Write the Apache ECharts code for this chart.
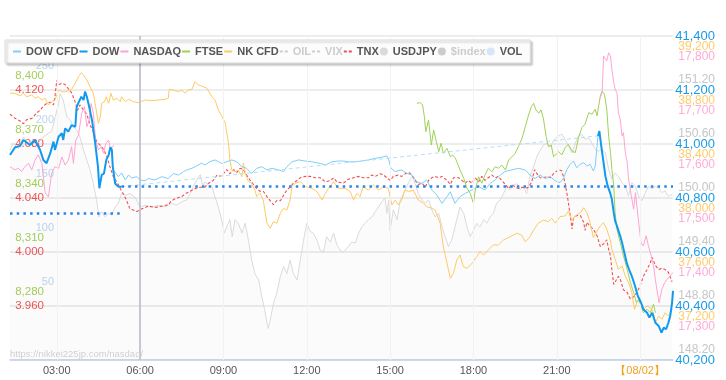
<!DOCTYPE html>
<html><head><meta charset="utf-8">
<script src="https://cdn.jsdelivr.net/npm/echarts@6/dist/echarts.min.js"></script>
<style>html,body{margin:0;padding:0;background:#fff}#c{width:726px;height:380px}</style>
</head><body><div id="c"></div>
<script>
// ---- x axis (minutes since 00:00 of 08/01) ----
const xTickValues = [180, 360, 540, 720, 900, 1080, 1260, 1440];
const xTickLabels = ['03:00', '06:00', '09:00', '12:00', '15:00', '18:00', '21:00', '【08/02】'];
const X_MIN = 79, X_MAX = 1511;
const sessionLine = 360;

// ---- series values [minute, value] ----
const dowLeft = [[79,40959],[90,40988],[101,40993],[108,41015],[122,40996],[133,41015],[144,40978],[151,40941],[158,40929],[166,40966],[173,41009],[176,40978],[184,41027],[191,41040],[194,41015],[198,41058],[205,41046],[212,41070],[220,41064],[223,41138],[228,41157],[233,41175],[238,41163],[241,41194],[245,41175],[250,41138],[256,41089],[263,41003],[269,40916],[272,40836],[277,40885],[282,40891],[287,40941],[292,40959],[296,40988],[299,40978],[301,40916],[306,40854],[313,40842],[320,40842]];
const dowRight = [[1349,41030],[1352,41048],[1356,40993],[1361,40931],[1365,40881],[1370,40844],[1375,40820],[1379,40795],[1383,40746],[1386,40715],[1390,40696],[1397,40659],[1401,40634],[1406,40597],[1411,40560],[1416,40536],[1422,40511],[1429,40474],[1435,40437],[1442,40412],[1447,40388],[1455,40375],[1460,40357],[1466,40375],[1473,40338],[1480,40326],[1486,40301],[1491,40320],[1496,40314],[1501,40338],[1505,40363],[1509,40412],[1511,40456]];
const dowGap = [[320,40842],[1349,41030]];
const prevCloseValues = [40743, 40842];
const prevCloseRanges = [[79,320],[320,1511]];
const dowCfd = [[302,40904],[313,40879],[320,40893],[328,40867],[335,40885],[342,40874],[353,40879],[360,40867],[371,40864],[378,40872],[392,40867],[407,40879],[421,40872],[432,40891],[443,40885],[454,40898],[461,40904],[472,40910],[482,40919],[493,40929],[500,40922],[511,40935],[522,40941],[536,40928],[547,40934],[558,40941],[569,40934],[580,40916],[590,40910],[601,40891],[612,40910],[623,40916],[634,40904],[645,40910],[659,40904],[670,40898],[677,40916],[688,40934],[702,40941],[716,40937],[731,40934],[749,40928],[760,40922],[774,40934],[788,40937],[799,40937],[810,40934],[824,40934],[839,40937],[853,40941],[868,40947],[882,40951],[893,40956],[896,40947],[902,40910],[911,40898],[925,40904],[936,40891],[947,40885],[958,40860],[969,40854],[979,40867],[990,40830],[1001,40811],[1012,40780],[1023,40805],[1030,40823],[1040,40780],[1051,40805],[1062,40817],[1077,40830],[1091,40842],[1105,40830],[1116,40854],[1127,40867],[1138,40885],[1148,40898],[1163,40904],[1177,40910],[1192,40904],[1202,40885],[1213,40872],[1224,40885],[1235,40872],[1246,40879],[1257,40863],[1267,40857],[1275,40875],[1282,40906],[1289,40925],[1296,40937],[1303,40912],[1311,40925],[1318,40931],[1325,40918],[1332,40925],[1339,40900],[1343,40918],[1349,41030]];
const nasdaqLeft = [[79,17558],[90,17552],[97,17555],[104,17549],[111,17558],[119,17564],[126,17552],[133,17570],[140,17580],[148,17564],[155,17509],[162,17502],[169,17546],[176,17558],[184,17555],[191,17576],[198,17561],[205,17570],[212,17595],[216,17564],[221,17607],[227,17617],[234,17657],[240,17669],[245,17632],[250,17644],[254,17675],[259,17657],[264,17607],[270,17589],[276,17595],[281,17583],[286,17601],[292,17607],[296,17589],[300,17594],[303,17598]];
const nasdaqRight = [[1352,17681],[1358,17695],[1361,17763],[1365,17766],[1368,17754],[1372,17769],[1376,17763],[1379,17738],[1383,17714],[1386,17701],[1390,17695],[1393,17658],[1397,17646],[1401,17615],[1404,17621],[1408,17584],[1412,17566],[1415,17535],[1421,17504],[1426,17479],[1430,17510],[1433,17485],[1437,17454],[1442,17417],[1447,17411],[1453,17430],[1458,17411],[1464,17393],[1469,17374],[1473,17349],[1476,17331],[1481,17306],[1487,17331],[1493,17343],[1498,17349],[1505,17356],[1511,17362]];
const ftse = [[958,8392.6],[965,8393.0],[970,8391.7],[974,8385.2],[977,8376.8],[983,8383.3],[989,8369.4],[994,8377.8],[999,8372.2],[1005,8365.7],[1010,8370.4],[1015,8364.8],[1023,8367.6],[1030,8362.9],[1035,8363.9],[1041,8362.1],[1044,8361.1],[1051,8355.6],[1059,8350.9],[1066,8345.4],[1073,8342.6],[1080,8337.0],[1084,8344.4],[1091,8351.8],[1098,8348.2],[1105,8352.8],[1112,8356.5],[1120,8354.6],[1127,8357.4],[1134,8356.5],[1141,8358.3],[1149,8355.6],[1156,8361.1],[1163,8362.9],[1170,8364.8],[1177,8368.5],[1185,8373.2],[1192,8379.6],[1199,8386.1],[1205,8390.7],[1210,8392.6],[1215,8388.9],[1221,8387.1],[1226,8388.9],[1231,8384.3],[1237,8374.1],[1242,8368.5],[1248,8369.4],[1253,8362.9],[1257,8362.5],[1264,8365.7],[1271,8364.0],[1278,8367.9],[1285,8369.8],[1293,8366.1],[1300,8365.2],[1307,8373.5],[1314,8379.1],[1321,8381.0],[1329,8387.4],[1336,8386.5],[1343,8389.3],[1347,8385.6],[1354,8396.7],[1358,8399.4],[1363,8397.6],[1368,8389.3],[1372,8374.4],[1376,8365.2],[1379,8355.9],[1383,8346.7],[1386,8331.8],[1390,8322.6],[1397,8315.2],[1404,8307.8],[1412,8300.4],[1419,8293.0],[1426,8287.4],[1432,8281.9],[1437,8283.7],[1442,8280.0],[1447,8276.3],[1455,8278.2],[1462,8276.3],[1469,8280.9],[1473,8276.3]];
const nkCfd = [[79,38776],[90,38776],[101,38756],[108,38776],[115,38750],[126,38763],[133,38739],[140,38750],[148,38726],[155,38739],[162,38689],[169,38713],[176,38726],[184,38800],[191,38787],[198,38787],[205,38795],[212,38805],[220,38850],[227,38899],[233,38928],[238,38911],[245,38874],[252,38824],[259,38776],[264,38676],[270,38553],[274,38602],[277,38701],[283,38713],[287,38750],[292,38701],[297,38776],[302,38726],[310,38739],[317,38713],[320,38750],[328,38713],[335,38731],[346,38713],[356,38706],[371,38726],[385,38721],[400,38726],[414,38731],[421,38739],[423,38805],[432,38800],[443,38787],[450,38800],[457,38776],[464,38800],[472,38805],[479,38862],[486,38837],[493,38830],[504,38813],[515,38750],[522,38726],[529,38652],[537,38602],[544,38553],[551,38405],[554,38282],[558,38207],[565,38195],[572,38207],[580,38158],[583,38257],[587,38183],[594,38121],[601,38109],[608,38059],[612,38010],[619,38035],[626,37985],[634,37813],[641,37776],[648,37825],[655,37813],[663,37887],[670,37924],[677,37911],[684,37985],[688,38084],[695,38109],[706,38121],[717,38084],[731,38072],[742,38047],[753,37985],[760,38035],[767,38072],[778,38121],[788,38072],[803,38072],[814,38047],[821,37985],[828,38035],[835,38010],[842,38084],[853,38059],[864,38096],[875,38059],[886,38084],[896,38072],[904,37948],[911,37985],[918,37948],[925,37985],[932,38059],[940,38047],[950,38059],[961,37985],[972,37961],[979,37936],[990,37924],[997,37911],[1008,37813],[1015,37639],[1023,37516],[1030,37405],[1037,37442],[1044,37541],[1051,37578],[1058,37491],[1066,37479],[1077,37516],[1087,37565],[1094,37602],[1102,37578],[1112,37615],[1123,37652],[1134,37652],[1145,37689],[1159,37713],[1174,37739],[1184,37726],[1192,37676],[1202,37713],[1210,37763],[1220,37813],[1231,37837],[1242,37825],[1249,37850],[1257,37813],[1267,37862],[1278,37867],[1285,37904],[1293,37830],[1300,37867],[1311,37891],[1318,37928],[1325,37891],[1332,37817],[1339,37706],[1347,37756],[1354,37793],[1361,37817],[1368,37768],[1375,37694],[1379,37620],[1386,37546],[1393,37472],[1401,37496],[1408,37422],[1415,37373],[1422,37299],[1428,37176],[1433,37225],[1440,37250],[1447,37176],[1455,37200],[1462,37188],[1469,37150],[1473,37076],[1480,37126],[1487,37102],[1494,37150],[1501,37126],[1509,37176]];
const tnx = [[79,4.102],[90,4.099],[101,4.097],[108,4.095],[115,4.098],[126,4.099],[137,4.103],[144,4.105],[151,4.108],[158,4.110],[166,4.111],[173,4.109],[176,4.115],[180,4.127],[185,4.124],[191,4.125],[198,4.124],[205,4.121],[212,4.118],[220,4.111],[225,4.105],[230,4.109],[238,4.105],[245,4.102],[252,4.094],[259,4.089],[266,4.082],[274,4.079],[281,4.076],[288,4.071],[295,4.063],[302,4.056],[313,4.050],[320,4.045],[324,4.043],[331,4.038],[338,4.032],[346,4.031],[353,4.030],[364,4.032],[378,4.034],[392,4.033],[407,4.034],[421,4.035],[428,4.038],[439,4.040],[450,4.041],[457,4.043],[468,4.045],[479,4.047],[490,4.048],[500,4.048],[508,4.051],[518,4.053],[526,4.057],[533,4.056],[540,4.058],[547,4.061],[554,4.058],[562,4.061],[569,4.059],[576,4.062],[583,4.061],[590,4.057],[598,4.053],[605,4.050],[612,4.047],[619,4.045],[626,4.045],[634,4.041],[641,4.038],[648,4.035],[655,4.038],[663,4.038],[670,4.042],[677,4.046],[684,4.048],[691,4.051],[699,4.053],[706,4.055],[717,4.056],[727,4.056],[738,4.055],[749,4.055],[760,4.052],[771,4.053],[778,4.055],[785,4.052],[799,4.051],[810,4.054],[821,4.055],[832,4.056],[842,4.055],[853,4.055],[861,4.057],[868,4.056],[879,4.058],[886,4.057],[893,4.055],[900,4.053],[907,4.056],[918,4.057],[925,4.056],[933,4.058],[940,4.059],[947,4.057],[954,4.053],[961,4.050],[969,4.051],[976,4.048],[983,4.053],[990,4.055],[997,4.056],[1005,4.055],[1012,4.056],[1023,4.053],[1030,4.050],[1037,4.055],[1048,4.055],[1055,4.053],[1062,4.051],[1069,4.053],[1077,4.051],[1084,4.055],[1091,4.052],[1098,4.056],[1105,4.053],[1112,4.055],[1120,4.057],[1127,4.055],[1134,4.056],[1141,4.053],[1149,4.050],[1156,4.047],[1163,4.050],[1170,4.048],[1177,4.047],[1185,4.048],[1192,4.047],[1199,4.048],[1206,4.052],[1212,4.061],[1217,4.058],[1224,4.055],[1231,4.055],[1239,4.056],[1246,4.055],[1253,4.058],[1257,4.059],[1264,4.061],[1271,4.060],[1278,4.051],[1284,4.039],[1289,4.027],[1293,4.017],[1296,4.025],[1303,4.027],[1311,4.027],[1318,4.022],[1321,4.016],[1325,4.022],[1332,4.019],[1339,4.017],[1347,4.012],[1354,4.004],[1361,4.006],[1368,4.009],[1372,4.002],[1376,3.997],[1379,3.987],[1383,3.976],[1386,3.977],[1393,3.982],[1397,3.980],[1404,3.972],[1412,3.970],[1419,3.965],[1426,3.967],[1433,3.970],[1440,3.975],[1447,3.982],[1455,3.987],[1462,3.992],[1466,3.996],[1473,3.990],[1480,3.987],[1487,3.988],[1494,3.987],[1501,3.985],[1509,3.978]];
const usdjpy = [[79,150.53],[86,150.61],[97,150.55],[108,150.68],[119,150.61],[129,150.64],[140,150.61],[151,150.68],[162,150.72],[169,150.74],[176,150.89],[184,151.05],[187,151.16],[194,151.09],[202,150.90],[209,150.87],[216,150.79],[223,150.76],[230,150.68],[238,150.53],[245,150.42],[252,150.31],[259,150.16],[266,149.98],[271,149.79],[277,149.85],[284,149.79],[292,149.83],[299,149.81],[306,149.90],[313,149.94],[320,150.05],[328,150.03],[338,150.05],[349,150.01],[360,149.90],[371,149.92],[385,149.90],[400,149.92],[414,149.90],[428,149.94],[439,149.92],[450,149.96],[461,149.98],[468,150.05],[475,150.13],[482,150.20],[490,150.26],[495,150.14],[500,150.18],[508,150.14],[515,150.13],[522,150.01],[529,149.90],[536,149.76],[542,149.61],[547,149.68],[554,149.76],[559,149.57],[565,149.76],[572,149.72],[580,149.61],[587,149.72],[594,149.53],[601,149.31],[608,149.16],[616,149.09],[623,148.90],[629,148.76],[634,148.61],[637,148.55],[641,148.64],[648,148.83],[655,148.94],[663,149.13],[670,149.24],[677,149.16],[684,149.31],[691,149.16],[699,149.09],[706,149.31],[713,149.53],[720,149.72],[727,149.63],[734,149.61],[742,149.53],[749,149.42],[756,149.40],[763,149.57],[771,149.51],[778,149.61],[785,149.48],[792,149.42],[799,149.40],[810,149.46],[817,149.51],[825,149.50],[832,149.61],[839,149.68],[846,149.72],[853,149.76],[861,149.79],[868,149.85],[875,149.90],[882,149.96],[889,150.00],[893,149.83],[897,149.98],[900,149.64],[907,149.87],[915,149.76],[922,149.98],[929,150.05],[936,150.13],[943,150.20],[948,150.24],[954,150.16],[961,150.05],[969,149.98],[976,149.94],[983,149.98],[990,149.87],[997,149.79],[1005,149.83],[1012,149.68],[1019,149.57],[1026,149.46],[1030,149.48],[1033,149.53],[1037,149.61],[1044,149.76],[1051,149.90],[1059,149.83],[1066,149.68],[1073,149.57],[1080,149.64],[1087,149.72],[1094,149.68],[1102,149.76],[1109,149.72],[1116,149.79],[1123,149.83],[1130,149.94],[1138,149.98],[1145,150.05],[1152,150.13],[1159,150.09],[1166,150.14],[1174,150.16],[1181,150.09],[1188,150.13],[1195,150.05],[1202,150.24],[1210,150.35],[1217,150.46],[1224,150.53],[1231,150.59],[1239,150.61],[1246,150.57],[1253,150.64],[1260,150.68],[1264,150.69],[1271,150.71],[1278,150.65],[1285,150.58],[1293,150.50],[1300,150.61],[1307,150.69],[1314,150.71],[1321,150.65],[1329,150.67],[1336,150.61],[1343,150.54],[1350,150.52],[1358,150.54],[1365,150.50],[1372,150.32],[1379,150.21],[1386,150.28],[1393,150.24],[1401,150.17],[1408,150.13],[1415,150.02],[1422,150.17],[1430,150.13],[1437,150.02],[1444,149.97],[1451,150.06],[1458,150.13],[1466,150.10],[1473,150.13],[1480,150.11],[1487,150.06],[1494,150.08],[1501,150.02],[1509,150.04]];
const vol = [];
const oil = [];
const vix = [];
const dollarIndex = [];

// ---- rendering ----
const FONT = "'Liberation Sans', Arial, Helvetica, sans-serif";
const comma = v => Math.round(v).toString().replace(/\B(?=(\d{3})+(?!\d))/g, ',');
const LINE_ICON = 'path://M0,0H8V2H0Z';
const DASH_ICON = 'path://M0,0H3V2H0ZM5,0H8V2H5Z';

function rightAxis(min, max, interval, color, size, fmt, va, pad, opts) {
  return {
    type: 'value', position: 'right', min, max, interval,
    axisLine: {show: false}, axisTick: {show: false}, splitLine: {show: false},
    axisLabel: Object.assign({color, fontSize: size, fontFamily: FONT, align: 'right', margin: 42,
      verticalAlign: va, padding: pad, formatter: fmt}, opts || {})
  };
}
function leftAxis(min, max, interval, color, size, fmt, offset, va, pad) {
  return {
    type: 'value', position: 'left', offset, min, max, interval,
    axisLine: {show: false}, axisTick: {show: false}, splitLine: {show: false},
    axisLabel: {color, fontSize: size, fontFamily: FONT, align: 'right', margin: 0,
      verticalAlign: va, padding: pad, formatter: fmt, showMinLabel: false, showMaxLabel: false}
  };
}

const dowAxis = rightAxis(40200, 41400, 200, '#1a9be8', 13, comma, 'middle', [0,0,0,0]);
dowAxis.splitLine = {show: true, lineStyle: {color: '#ededed', width: 2}};

const yAxes = [
  dowAxis,                                                                                   // 0 DOW
  rightAxis(36800, 39200, 400, '#ffcc6a', 12, comma, 'top', [5,0,0,0], {showMinLabel: false}),   // 1 NK CFD
  rightAxis(17200, 17800, 100, '#ffaad8', 12, comma, 'top', [15,0,0,0], {showMinLabel: false}),  // 2 NASDAQ
  leftAxis(8250, 8430, 30, '#a6cf5a', 11.5, comma, -34, 'bottom', [0,0,8,0]),                   // 3 FTSE
  leftAxis(3.92, 4.16, 0.04, '#ee5555', 11.5, v => v.toFixed(3), -34, 'middle', [0,0,8,0]),     // 4 TNX
  rightAxis(148.2, 151.8, 0.6, '#c6c6c6', 12, v => v.toFixed(2), 'bottom', [0,0,4,0], {showMaxLabel: false}), // 5 USDJPY
  leftAxis(0, 300, 50, '#bcd5f0', 11, v => String(v), -44, 'bottom', [0,0,19,0]),              // 6 VOL
  {type: 'value', show: false, scale: true}                                                     // 7 hidden
];

const line = (name, yi, data, color, width, extra) => Object.assign({
  name, type: 'line', yAxisIndex: yi, data, symbol: 'none', showSymbol: false,
  itemStyle: {color}, lineStyle: {color, width}, emphasis: {disabled: true}
}, extra || {});

const option = {
  animation: false,
  grid: {left: 10, right: 53, top: 36, bottom: 20},
  legend: {
    z: 20, zlevel: 0,
    left: 5, top: 40, padding: [6, 8, 6, 8], itemWidth: 8, itemHeight: 10, itemGap: 1,
    backgroundColor: '#fcfcfd', borderColor: '#d9d9d9', borderWidth: 1,
    shadowBlur: 2, shadowOffsetX: 2, shadowOffsetY: 2, shadowColor: 'rgba(0,0,0,0.22)',
    textStyle: {color: '#555', fontSize: 11, fontWeight: 'bold', fontFamily: FONT},
    inactiveColor: '#cccccc',
    selected: {'OIL': false, 'VIX': false, '$index': false},
    data: [
      {name: 'DOW CFD', icon: LINE_ICON}, {name: 'DOW', icon: LINE_ICON},
      {name: 'NASDAQ', icon: LINE_ICON}, {name: 'FTSE', icon: LINE_ICON},
      {name: 'NK CFD', icon: LINE_ICON}, {name: 'OIL', icon: DASH_ICON},
      {name: 'VIX', icon: DASH_ICON}, {name: 'TNX', icon: DASH_ICON},
      {name: 'USDJPY', icon: 'circle'}, {name: '$index', icon: 'circle'},
      {name: 'VOL', icon: 'circle'}
    ]
  },
  xAxis: {
    type: 'value', min: X_MIN, max: X_MAX,
    axisLine: {show: true, onZero: false, lineStyle: {color: '#c6d2ea', width: 1.5}},
    axisTick: {show: false, customValues: xTickValues},
    splitLine: {show: false},
    axisLabel: {
      customValues: xTickValues, margin: 5, color: '#555', fontSize: 11, fontFamily: FONT,
      formatter: v => {
        const i = xTickValues.indexOf(v);
        if (i < 0) return '';
        return i === xTickValues.length - 1 ? '{d|' + xTickLabels[i] + '}' : xTickLabels[i];
      },
      rich: {d: {color: '#f0a020', fontSize: 11, fontFamily: FONT}}
    }
  },
  yAxis: yAxes,
  graphic: [{
    type: 'text', left: 10, top: 349, z: 10,
    style: {text: 'https://nikkei225jp.com/nasdaq/', fill: '#cfcfcf', font: "9.5px 'Liberation Sans', Arial"}
  }],
  series: [
    line('USDJPY', 5, usdjpy, '#dadada', 1, {
      areaStyle: {color: 'rgba(0,0,0,0.025)'}, z: 1,
      markLine: {silent: true, symbol: 'none', label: {show: false},
        lineStyle: {color: '#f2f2f2', width: 1, type: 'solid'},
        data: xTickValues.map(v => ({xAxis: v}))}
    }),
    {name: 'VOL', type: 'bar', yAxisIndex: 6, data: vol, itemStyle: {color: '#d6e6f8'}},
    line('OIL', 7, oil, '#bbbbbb', 1, {lineStyle: {color: '#bbb', width: 1, type: [3, 2]}}),
    line('VIX', 7, vix, '#bbbbbb', 1, {lineStyle: {color: '#bbb', width: 1, type: [3, 2]}}),
    line('$index', 7, dollarIndex, '#bbbbbb', 1),
    line('TNX', 4, tnx, '#f44d4d', 1.1, {lineStyle: {color: '#f44d4d', width: 1.1, type: [3, 2]}, z: 3}),
    line('NK CFD', 1, nkCfd, '#ffc964', 1, {z: 3}),
    line('FTSE', 3, ftse, '#9fd057', 1, {z: 3}),
    line('NASDAQ', 2, nasdaqLeft, '#ffa3d3', 1, {z: 3}),
    line('NASDAQ', 2, nasdaqRight, '#ffa3d3', 1, {z: 3}),
    line('DOW CFD', 0, dowCfd, '#7fcdf8', 1, {z: 4}),
    line('DOW gap', 0, dowGap, '#b3dff9', 1, {lineStyle: {color: '#b3dff9', width: 1, type: [4, 3]}, z: 4}),
    line('DOW', 0, dowLeft, '#1199ee', 2, {z: 5,
      markLine: {silent: true, symbol: 'none', label: {show: false}, z: 6,
        data: [
          [{coord: [prevCloseRanges[0][0], prevCloseValues[0]], lineStyle: {color: '#2a86e6', width: 2.5, type: [2.5, 4.2]}},
           {coord: [prevCloseRanges[0][1], prevCloseValues[0]]}],
          [{coord: [prevCloseRanges[1][0], prevCloseValues[1]], lineStyle: {color: '#2a86e6', width: 2.5, type: [2.5, 4.2]}},
           {coord: [prevCloseRanges[1][1], prevCloseValues[1]]}],
          {xAxis: sessionLine, lineStyle: {color: '#b3b7cb', width: 1.5, type: 'solid'}}
        ]}
    }),
    line('DOW', 0, dowRight, '#1199ee', 2, {z: 5})
  ]
};

const chart = echarts.init(document.getElementById('c'), null, {renderer: 'canvas'});
chart.setOption(option);
</script></body></html>
